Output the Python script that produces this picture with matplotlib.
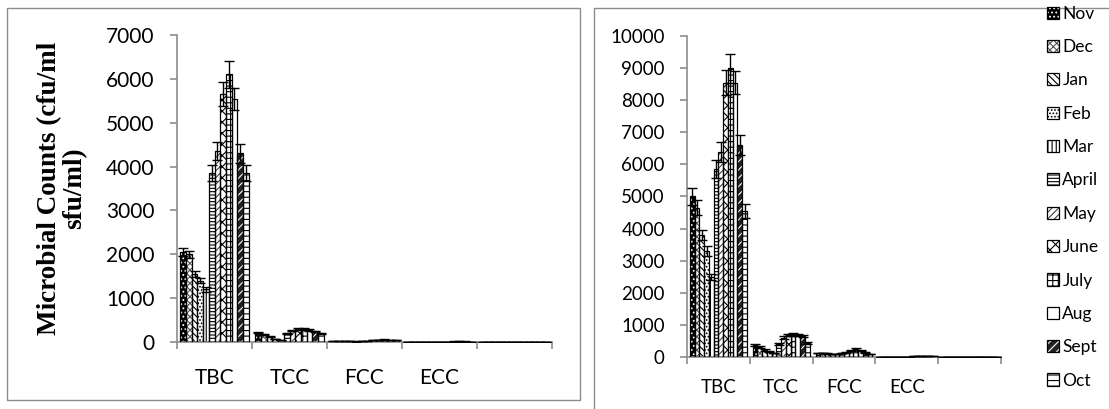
import matplotlib
matplotlib.use('Agg')
import matplotlib.pyplot as plt
from matplotlib.patches import Patch, Rectangle
from matplotlib.lines import Line2D
from matplotlib.legend_handler import HandlerTuple

W, H = 1109, 409

months = ['Nov', 'Dec', 'Jan', 'Feb', 'Mar', 'April', 'May', 'June',
          'July', 'Aug', 'Sept', 'Oct']
categories = ['TBC', 'TCC', 'FCC', 'ECC', '']

# grafico da esquerda
left_tbc = [2050, 2000, 1550, 1400, 1200, 3850, 4350, 5650, 6100, 5550, 4300, 3850]
left_tcc = [210, 180, 120, 70, 50, 200, 260, 290, 290, 270, 240, 200]
left_fcc = [30, 25, 20, 15, 10, 20, 30, 40, 50, 55, 50, 40]
left_ecc = [0, 0, 0, 0, 0, 0, 0, 5, 10, 12, 10, 5]
err_left_tbc = [100, 80, 70, 60, 50, 180, 200, 280, 300, 250, 220, 180]
err_left_tcc = [15, 12, 10, 8, 6, 15, 20, 20, 20, 20, 18, 15]
err_left_fcc = [4, 3, 3, 2, 2, 3, 4, 5, 5, 6, 5, 4]
err_left_ecc = [0, 0, 0, 0, 0, 0, 0, 1, 2, 2, 2, 1]

# grafico da direita
right_tbc = [5000, 4650, 3800, 3300, 2500, 5850, 6400, 8550, 9000, 8550, 6600, 4550]
right_tcc = [380, 320, 220, 160, 120, 400, 600, 680, 700, 680, 650, 430]
right_fcc = [130, 120, 110, 100, 100, 120, 150, 200, 250, 200, 150, 100]
right_ecc = [0, 0, 0, 0, 0, 0, 0, 20, 25, 25, 20, 20]
err_right_tbc = [250, 240, 160, 150, 100, 280, 310, 390, 450, 350, 320, 230]
err_right_tcc = [30, 25, 20, 15, 10, 30, 40, 40, 40, 40, 35, 30]
err_right_fcc = [10, 8, 8, 6, 6, 8, 10, 15, 20, 15, 10, 8]
err_right_ecc = [0, 0, 0, 0, 0, 0, 0, 2, 3, 3, 2, 2]

# (cor de fundo, cor da hachura, hachura)
estilos = [
    ('black', 'white', '....'),
    ('white', '#555555', 'xxxxx'),
    ('white', 'black', '\\\\\\\\\\'),
    ('white', 'black', '.....'),
    ('white', 'black', '||||'),
    ('white', 'black', '-----'),
    ('white', '#444444', '/////'),
    ('white', 'black', 'xxx'),
    ('white', 'black', '+++'),
    ('white', 'black', ''),
    ('#222222', 'white', '////'),
    ('white', 'black', '---'),
]

plt.rcParams['font.family'] = ['Lato', 'DejaVu Sans']
plt.rcParams['hatch.linewidth'] = 0.8


def desenha(ax, series, erros, ymax, ystep, fs, xpad):
    n = len(months)
    w = 0.907 / n
    for j in range(n):
        fc, hc, h = estilos[j]
        xs = [i + (j - (n - 1) / 2) * w for i in range(len(series))]
        ys = [s[j] for s in series]
        es = [e[j] for e in erros]
        ax.bar(xs, ys, w, color=fc, edgecolor=hc, hatch=h, linewidth=0, zorder=2)
        ax.bar(xs, ys, w, color='none', edgecolor='black', linewidth=0.9, zorder=3)
        ax.errorbar(xs, ys, yerr=es, fmt='none', ecolor='black', elinewidth=1,
                    capsize=3.5, capthick=1, zorder=4)
    ax.set_xlim(-0.5, len(categories) - 0.5)
    ax.set_ylim(0, ymax)
    ax.set_yticks(range(0, ymax + 1, ystep))
    ax.set_xticks([i - 0.5 for i in range(len(categories) + 1)])
    ax.set_xticklabels([])
    ax.set_xticks(range(len(categories)), minor=True)
    ax.set_xticklabels(categories, minor=True)
    for s in ['top', 'right']:
        ax.spines[s].set_visible(False)
    for s in ['left', 'bottom']:
        ax.spines[s].set_color('#8c8c8c')
        ax.spines[s].set_linewidth(1.2)
    ax.tick_params(axis='y', direction='out', length=5, width=1.2, color='#8c8c8c',
                   labelsize=fs, pad=11)
    ax.tick_params(axis='x', which='major', direction='out', length=5, width=1.2,
                   color='#8c8c8c')
    ax.tick_params(axis='x', which='minor', length=0, labelsize=fs, pad=xpad)


fig = plt.figure(figsize=(W / 100, H / 100), dpi=100)

ax1 = fig.add_axes([177 / W, (H - 342) / H, 375 / W, 307 / H])
desenha(ax1, [left_tbc, left_tcc, left_fcc, left_ecc, [0] * 12],
        [err_left_tbc, err_left_tcc, err_left_fcc, err_left_ecc, [0] * 12],
        7000, 1000, 15, 19)

ax2 = fig.add_axes([687 / W, (H - 357) / H, 314 / W, 321 / H])
desenha(ax2, [right_tbc, right_tcc, right_fcc, right_ecc, [0] * 12],
        [err_right_tbc, err_right_tcc, err_right_fcc, err_right_ecc, [0] * 12],
        10000, 1000, 13.5, 16)

fig.text(62 / W, 1 - 188 / H, 'Microbial Counts (cfu/ml\nsfu/ml)', rotation=90,
         ha='center', va='center', multialignment='center', fontsize=19.5,
         fontweight='bold', family=['Liberation Serif', 'DejaVu Serif'],
         linespacing=1.0)

# molduras dos paineis
fig.patches.append(Rectangle((7 / W, 1 - 400 / H), 573 / W, 392 / H, transform=fig.transFigure,
                             facecolor='none', edgecolor='#8c8c8c', linewidth=1))
fig.lines.append(Line2D([594 / W, 594 / W, 1.0], [0, 1 - 8 / H, 1 - 8 / H],
                        transform=fig.transFigure, color='#8c8c8c', linewidth=1))

handles = []
for fc, hc, h in estilos:
    handles.append((Patch(facecolor=fc, edgecolor=hc, hatch=h, linewidth=0),
                    Patch(facecolor='none', edgecolor='black', linewidth=0.9)))
fig.legend(handles, months, handler_map={tuple: HandlerTuple(ndivide=1, pad=0)},
           loc='upper left', bbox_to_anchor=(1038 / W, 1 + 3 / H), frameon=False,
           fontsize=12.5, handlelength=0.7, handleheight=0.7, handletextpad=0.2,
           labelspacing=1.0, borderpad=0)

fig.savefig('out.png', dpi=100)
